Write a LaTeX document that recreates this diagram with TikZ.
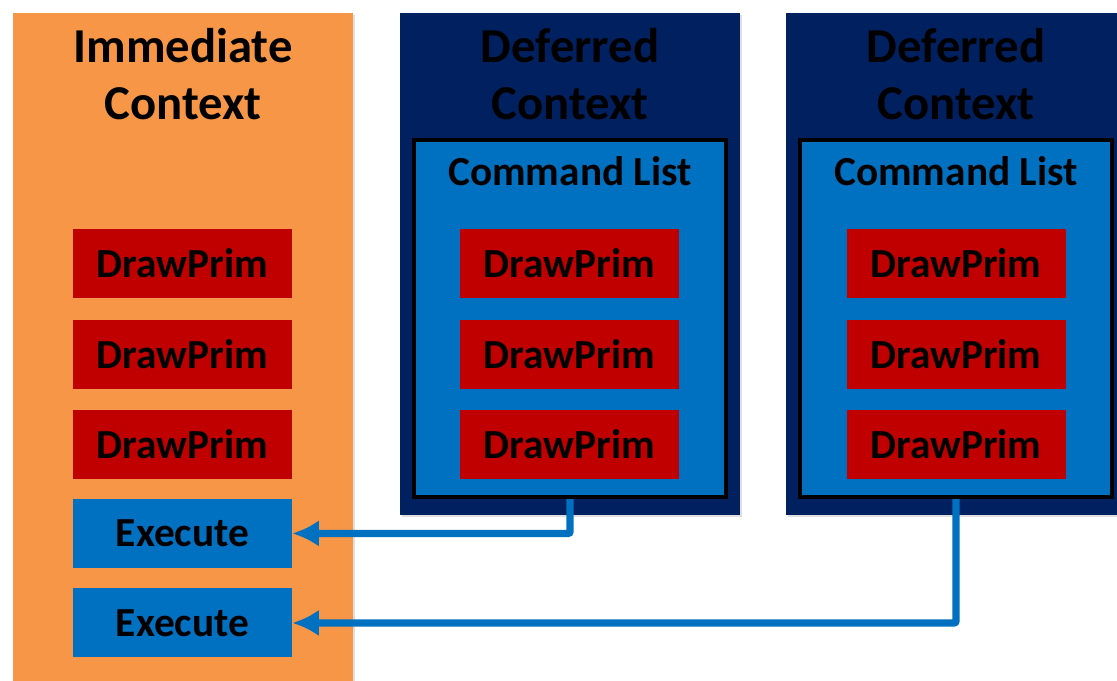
\documentclass[tikz,border=0pt]{standalone}
\usepackage{fontspec}
\setmainfont{Carlito}
\usetikzlibrary{positioning,arrows.meta,shadows}
\definecolor{ctxorange}{HTML}{F79646}
\definecolor{ctxnavy}{HTML}{002060}
\definecolor{listblue}{HTML}{0070C0}
\definecolor{primred}{HTML}{C00000}

\begin{document}
\begin{tikzpicture}[x=0.75pt,y=-0.75pt,>={Latex[length=20pt,width=20pt]},font=\bfseries,
    node distance=15.75pt,
    panel/.style={rectangle,anchor=north west,inner sep=0pt,outer sep=0pt,minimum width=255pt,
      drop shadow={shadow xshift=1.2pt,shadow yshift=-1.2pt,opacity=.25}},
    title/.style={align=center,font=\fontsize{36.5}{42.75}\selectfont\bfseries},
    cmdlist/.style={rectangle,draw=black,line width=3pt,fill=listblue,minimum width=234pt,minimum height=267.75pt},
    prim/.style={rectangle,fill=primred,minimum width=164.25pt,minimum height=51.75pt,
      font=\fontsize{31}{36}\selectfont\bfseries},
    exec/.style={prim,fill=listblue},
    link/.style={->,draw=listblue,line width=5.5pt,rounded corners=1.5pt}]
    \useasboundingbox (0,0) rectangle (1117,681);
    % contexts
    \node [panel,fill=ctxorange,minimum height=510pt] (imm) at (13,13) {};
    \node [panel,fill=ctxnavy,minimum height=376.5pt] (defa) at (400,13) {};
    \node [panel,fill=ctxnavy,minimum height=376.5pt] (defb) at (786,13) {};
    \node [title] (immtitle) at (183,74.5) {Immediate\\Context};
    \node [title] (defatitle) at (570,74.5) {Deferred\\Context};
    \node [title] (defbtitle) at (956,74.5) {Deferred\\Context};
    % command lists
    \foreach \col/\x in {a/570,b/956}
    {
        \node [cmdlist] (cl\col) at (\x,318.5) {};
        \node [font=\fontsize{31}{36}\selectfont\bfseries] (cltitle\col) at (\x,171) {Command List};
    }
    % draw calls
    \foreach \col/\x in {im/182.5,a/569.5,b/956}
    {
        \node [prim] (\col1) at (\x,263.5) {DrawPrim};
        \node [prim,below=of \col1] (\col2) {DrawPrim};
        \node [prim,below=of \col2] (\col3) {DrawPrim};
    }
    \node [exec,below=14.5pt of im3] (exa) {Execute};
    \node [exec,below=15pt of exa] (exb) {Execute};
    \draw [link] (cla.south) |- (exa.east);
    \draw [link] (clb.south) |- (exb.east);
\end{tikzpicture}
\end{document}
